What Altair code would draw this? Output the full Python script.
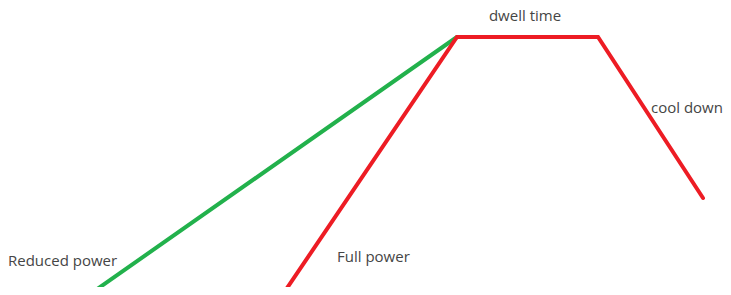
import altair as alt
import pandas as pd

# Line vertices (time, temperature)
green_time = [93, 457]
green_temp = [3, 258]
red_time = [283, 457, 598, 703]
red_temp = [1, 258, 258, 97]

label_text = ["dwell time", "cool down", "Reduced power", "Full power"]
label_time = [525, 651, 8, 337]
label_temp = [274, 182, 29, 33]
label_align = ["center", "left", "left", "left"]

rows = []
for i, (t, v) in enumerate(zip(green_time, green_temp)):
    rows.append({"series": "reduced", "order": i, "time": t, "temp": v})
for i, (t, v) in enumerate(zip(red_time, red_temp)):
    rows.append({"series": "full", "order": i, "time": t, "temp": v})
lines = pd.DataFrame(rows)
labels = pd.DataFrame({"text": label_text, "time": label_time, "temp": label_temp, "align": label_align})

xs = alt.Scale(domain=[8, 723], nice=False, zero=False)
ys = alt.Scale(domain=[8, 287], nice=False, zero=False)

line = alt.Chart(lines).mark_line(strokeWidth=4, strokeCap="round", strokeJoin="miter", clip=False).encode(
    x=alt.X("time:Q", scale=xs, axis=None),
    y=alt.Y("temp:Q", scale=ys, axis=None),
    detail="series:N",
    order="order:Q",
    color=alt.Color("series:N", scale=alt.Scale(domain=["reduced", "full"], range=["#22B14C", "#ED1C24"]), legend=None),
)

def text_layer(align):
    return alt.Chart(labels[labels["align"] == align]).mark_text(
        align=align, baseline="alphabetic", font="Open Sans", fontSize=15, color="#454545", clip=False
    ).encode(
        x=alt.X("time:Q", scale=xs, axis=None),
        y=alt.Y("temp:Q", scale=ys, axis=None),
        text="text:N",
    )

chart = alt.layer(line, text_layer("center"), text_layer("left")).properties(
    width=715, height=279, padding=0, background="white",
    autosize=alt.AutoSizeParams(type="none")
).configure_view(strokeWidth=0, stroke="transparent")

chart.save("out.html", embed_options={"renderer": "svg", "actions": False})
